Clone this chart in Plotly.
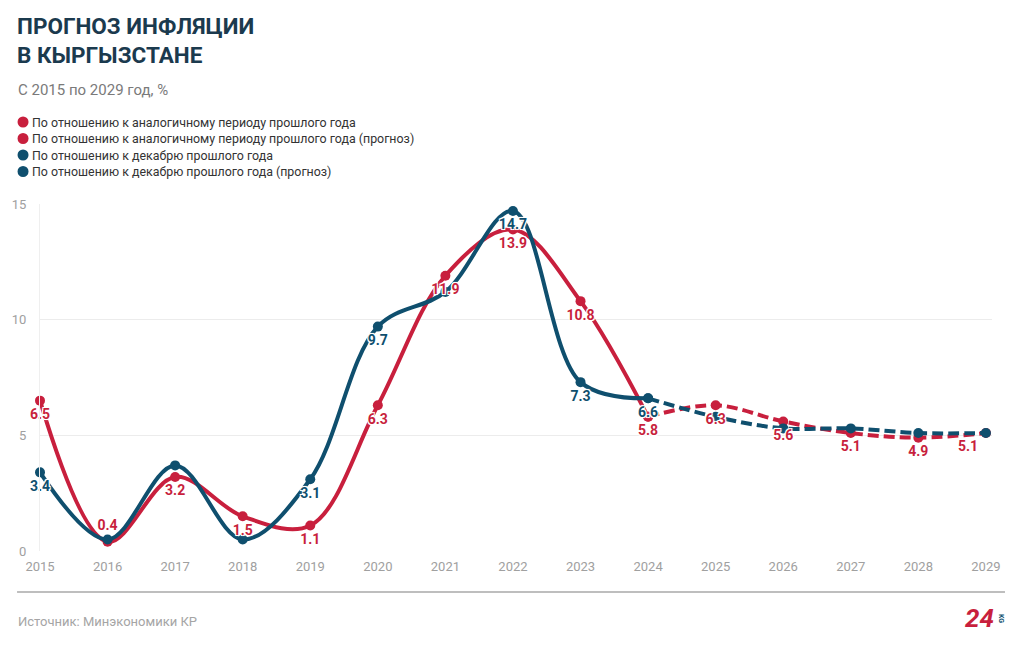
import plotly.graph_objects as go

# ---------------- data ----------------
years_hist = [2015, 2016, 2017, 2018, 2019, 2020, 2021, 2022, 2023, 2024]
years_fc = [2024, 2025, 2026, 2027, 2028, 2029]

yoy_hist = [6.5, 0.4, 3.2, 1.5, 1.1, 6.3, 11.9, 13.9, 10.8, 5.8]
yoy_fc = [5.8, 6.3, 5.6, 5.1, 4.9, 5.1]
dec_hist = [3.4, 0.5, 3.7, 0.5, 3.1, 9.7, 11.2, 14.7, 7.3, 6.6]
dec_fc = [6.6, 5.8, 5.3, 5.3, 5.1, 5.1]

yoy_hist_labels = ["6.5", "0.4", "3.2", "1.5", "1.1", "6.3", "11.9", "13.9", "10.8", "5.8"]
yoy_fc_labels = ["", "6.3", "5.6", "5.1", "4.9", "5.1"]
dec_hist_labels = ["3.4", "", "", "", "3.1", "9.7", "", "14.7", "7.3", "6.6"]

series_names = [
    "По отношению к аналогичному периоду прошлого года",
    "По отношению к аналогичному периоду прошлого года (прогноз)",
    "По отношению к декабрю прошлого года",
    "По отношению к декабрю прошлого года (прогноз)",
]

x_ticks = list(range(2015, 2030))
y_ticks = [0, 5, 10, 15]

title_text = "ПРОГНОЗ ИНФЛЯЦИИ<br>В КЫРГЫЗСТАНЕ"
subtitle_text = "С 2015 по 2029 год, %"
source_text = "Источник: Минэкономики КР"

# ---------------- style ----------------
RED = "#c81f3d"
BLUE = "#0f4f6e"
TITLE = "#1b3a4e"
FONT = "Roboto, 'Noto Sans', sans-serif"

W, H = 1020, 650
L, R, T, B = 38, 28, 204, 99
PW, PH = W - L - R, H - T - B


def px_x(x):
    return (x - L) / PW


def px_y(y):
    return (H - B - y) / PH


HALO = "1px 1px 0 #fff, -1px -1px 0 #fff, 1px -1px 0 #fff, -1px 1px 0 #fff, 0 0 3px #fff"

fig = go.Figure()


def add_line(x, y, color, dash, name):
    fig.add_trace(go.Scatter(
        x=x, y=y, name=name, mode="lines+markers",
        line=dict(color=color, width=4, shape="spline", smoothing=1, dash=dash),
        marker=dict(color=color, size=10),
        cliponaxis=False, showlegend=False,
        hovertemplate="%{x}: %{y}<extra></extra>",
    ))


def add_labels(x, y, color, labels, positions):
    fig.add_trace(go.Scatter(
        x=x, y=y, mode="markers+text", text=labels, textposition=positions,
        marker=dict(size=11, color="rgba(0,0,0,0)"),
        textfont=dict(family=FONT, size=14, color=color, weight="bold", shadow=HALO),
        cliponaxis=False, showlegend=False, hoverinfo="skip",
    ))


add_line(years_fc, yoy_fc, RED, "11px,5px", series_names[1])
add_line(years_fc, dec_fc, BLUE, "11px,5px", series_names[3])
add_line(years_hist, yoy_hist, RED, "solid", series_names[0])
add_line(years_hist, dec_hist, BLUE, "solid", series_names[2])

add_labels(years_hist, dec_hist, BLUE, dec_hist_labels, "bottom center")
add_labels(years_fc, yoy_fc, RED, yoy_fc_labels, ["bottom center"] * 5 + ["bottom left"])
add_labels(years_hist, yoy_hist, RED, yoy_hist_labels,
           ["bottom center", "top center"] + ["bottom center"] * 8)

annotations = []
shapes = []

# title
annotations.append(dict(
    text="<b>" + title_text + "</b>", xref="paper", yref="paper",
    x=px_x(13), y=px_y(11), xanchor="left", yanchor="top", align="left",
    showarrow=False, font=dict(family=FONT, size=22.5, color=TITLE),
))
annotations.append(dict(
    text=subtitle_text, xref="paper", yref="paper",
    x=px_x(14), y=px_y(90), xanchor="left", yanchor="middle", align="left",
    showarrow=False, font=dict(family=FONT, size=15, color="#7a7a7a"),
))

# legend (circles + text)
leg_colors = [RED, RED, BLUE, BLUE]
leg_y = [122, 138.5, 155, 171.5]
for name, col, yy in zip(series_names, leg_colors, leg_y):
    shapes.append(dict(
        type="circle", xref="paper", yref="paper", xsizemode="pixel", ysizemode="pixel",
        xanchor=px_x(21), yanchor=px_y(yy), x0=-5.5, x1=5.5, y0=-5.5, y1=5.5,
        fillcolor=col, line=dict(width=0),
    ))
    annotations.append(dict(
        text=name, xref="paper", yref="paper",
        x=px_x(28), y=px_y(yy), xanchor="left", yanchor="middle",
        showarrow=False, font=dict(family=FONT, size=12.4, color="#333333"),
    ))

# footer
shapes.append(dict(type="line", xref="paper", yref="paper",
                   x0=px_x(15), x1=px_x(1005), y0=px_y(592), y1=px_y(592),
                   line=dict(color="#a8a8a8", width=1.5)))
annotations.append(dict(
    text=source_text, xref="paper", yref="paper",
    x=px_x(14), y=px_y(621), xanchor="left", yanchor="middle",
    showarrow=False, font=dict(family=FONT, size=13, color="#a5a5a5"),
))
annotations.append(dict(
    text="<b><i>24</i></b>", xref="paper", yref="paper",
    x=px_x(996), y=px_y(618), xanchor="right", yanchor="middle",
    showarrow=False, font=dict(family=FONT, size=26, color=RED),
))
annotations.append(dict(
    text="<b>KG</b>", xref="paper", yref="paper", textangle=90,
    x=px_x(1001), y=px_y(619), xanchor="center", yanchor="middle",
    showarrow=False, font=dict(family=FONT, size=7, color=BLUE),
))

fig.update_layout(
    width=W, height=H,
    margin=dict(l=L, r=R, t=T, b=B, pad=0),
    paper_bgcolor="white", plot_bgcolor="white",
    font=dict(family=FONT),
    showlegend=False,
    annotations=annotations, shapes=shapes,
    xaxis=dict(
        range=[2015, 2029.09], tickvals=x_ticks, ticktext=[str(v) for v in x_ticks],
        showgrid=False, zeroline=False, showline=False, ticks="",
        tickfont=dict(family=FONT, size=13, color="#a0a0a0"),
        ticklabelstandoff=6, fixedrange=True,
    ),
    yaxis=dict(
        range=[0, 15], tickvals=y_ticks, showgrid=True, gridcolor="#ececec", gridwidth=1,
        zeroline=False, showline=True, linecolor="#efefef", linewidth=1, ticks="",
        tickfont=dict(family=FONT, size=13, color="#a0a0a0"),
        ticklabelstandoff=10, fixedrange=True,
    ),
)

fig.write_html(
    "out.html",
    config={"displayModeBar": False},
    post_script="document.body.style.margin='0';document.body.style.overflow='hidden';",
)
